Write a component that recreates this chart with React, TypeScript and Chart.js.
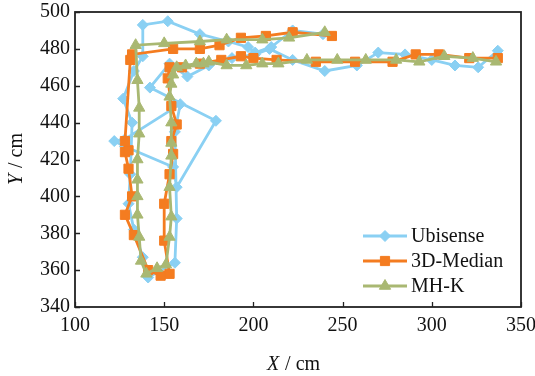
import { useEffect, useRef } from "react";
import { Chart, registerables } from "chart.js";
import { drawPoint } from "chart.js/helpers";

Chart.register(...registerables);

const seriesNames = ["Ubisense", "3D-Median", "MH-K"];
const seriesColors = ["#8ad0f3", "#f47c20", "#a9b872"];
const seriesMarkers = ["rectRot", "rect", "triangle"];

const ubiX = [337, 326, 313, 300, 285, 270, 258, 240, 222, 209, 201, 188, 175, 163, 153, 142, 179, 157, 155, 128, 122, 128, 159, 156, 157, 156, 141, 138, 133, 130, 131, 132, 127, 133, 138, 138, 152, 170, 186, 197, 201, 210, 222, 239];
const ubiY = [479, 470, 471, 474, 477, 478, 471, 468, 474, 480, 477, 475, 471, 465, 472, 459, 441, 405, 416, 427, 430, 431, 450, 435, 388, 364, 356, 367, 382, 396, 412, 440, 453, 468, 476, 493, 495, 488, 484, 481, 478, 481, 490, 488];

const medX = [337, 321, 304, 291, 278, 257, 235, 213, 200, 193, 182, 170, 160, 153, 152, 154, 157, 154, 155, 153, 150, 150, 153, 148, 141, 133, 128, 132, 130, 128, 130, 128, 131, 132, 155, 170, 181, 193, 207, 222, 244];
const medY = [475, 475, 477, 477, 473, 473, 473, 474, 475, 476, 474, 472, 470, 470, 464, 449, 439, 430, 423, 412, 396, 376, 358, 357, 360, 379, 390, 400, 415, 424, 425, 430, 474, 477, 480, 480, 482, 486, 487, 489, 487];

const mhkX = [336, 323, 307, 293, 280, 263, 247, 230, 214, 205, 196, 185, 175, 172, 168, 162, 157, 155, 154, 153, 154, 154, 154, 153, 154, 153, 151, 146, 140, 137, 136, 135, 135, 135, 135, 136, 136, 135, 134, 150, 170, 185, 205, 220, 240];
const mhkY = [473, 475, 476, 473, 474, 474, 474, 474, 472, 472, 471, 471, 473, 472, 472, 471, 470, 466, 461, 454, 440, 429, 422, 405, 389, 378, 363, 361, 358, 365, 378, 390, 400, 409, 420, 434, 448, 463, 482, 483, 484, 485, 485, 486, 489];

const xTicks = [100, 150, 200, 250, 300, 350];
const yTicks = [340, 360, 380, 400, 420, 440, 460, 480, 500];

const FONT = "'Liberation Serif', 'Times New Roman', serif";

export default function App() {
  const ref = useRef<HTMLCanvasElement>(null);

  useEffect(() => {
    document.body.style.margin = "0";
    const canvas = ref.current;
    if (!canvas) return;
    const pts = (xs: number[], ys: number[]) => xs.map((x, i) => ({ x, y: ys[i] }));
    const allX = [ubiX, medX, mhkX];
    const allY = [ubiY, medY, mhkY];

    const framePlugin = {
      id: "frameAndExtras",
      afterDraw(chart: any) {
        const { ctx, chartArea: a, scales } = chart;
        ctx.save();
        // inward ticks
        ctx.strokeStyle = "#222";
        ctx.lineWidth = 1.3;
        ctx.beginPath();
        xTicks.forEach((v) => {
          const px = Math.round(scales.x.getPixelForValue(v)) + 0.5;
          ctx.moveTo(px, a.bottom);
          ctx.lineTo(px, a.bottom - 5);
        });
        yTicks.forEach((v) => {
          const py = Math.round(scales.y.getPixelForValue(v)) + 0.5;
          ctx.moveTo(a.left, py);
          ctx.lineTo(a.left + 5, py);
        });
        ctx.stroke();
        // frame
        ctx.lineWidth = 1.8;
        ctx.strokeStyle = "#222";
        ctx.strokeRect(a.left, a.top, a.right - a.left, a.bottom - a.top);

        // axis titles
        const drawTitle = (cx: number, cy: number, rot: number, letter: string) => {
          ctx.save();
          ctx.translate(cx, cy);
          ctx.rotate(rot);
          ctx.fillStyle = "#111";
          ctx.textBaseline = "middle";
          ctx.textAlign = "left";
          const fi = `italic 20px ${FONT}`;
          const fr = `20px ${FONT}`;
          ctx.font = fi;
          const w1 = ctx.measureText(letter).width;
          ctx.font = fr;
          const rest = " / cm";
          const w2 = ctx.measureText(rest).width;
          const start = -(w1 + w2) / 2;
          ctx.font = fi;
          ctx.fillText(letter, start, 0);
          ctx.font = fr;
          ctx.fillText(rest, start + w1 + 1, 0);
          ctx.restore();
        };
        drawTitle((a.left + a.right) / 2 - 5, 365, 0, "X");
        drawTitle(17, (a.top + a.bottom) / 2, -Math.PI / 2, "Y");

        // legend
        const lx0 = 363, lx1 = 407, ltext = 411;
        const rows = [236, 261, 286];
        chart.data.datasets.forEach((ds: any, i: number) => {
          const y = rows[i];
          ctx.strokeStyle = ds.borderColor;
          ctx.lineWidth = ds.borderWidth;
          ctx.beginPath();
          ctx.moveTo(lx0, y);
          ctx.lineTo(lx1, y);
          ctx.stroke();
          ctx.fillStyle = ds.pointBackgroundColor;
          ctx.strokeStyle = ds.pointBorderColor;
          ctx.lineWidth = ds.pointBorderWidth;
          drawPoint(ctx, { pointStyle: ds.pointStyle, radius: ds.pointRadius, rotation: 0, borderWidth: ds.pointBorderWidth }, (lx0 + lx1) / 2, y);
          ctx.fillStyle = "#111";
          ctx.font = `20px ${FONT}`;
          ctx.textAlign = "left";
          ctx.textBaseline = "middle";
          ctx.fillText(ds.label, ltext, y + 1);
        });
        ctx.restore();
      },
    };

    const radii = [5.5, 6.5, 6.5];
    const orders = [3, 2, 1];

    const chart = new Chart(canvas, {
      type: "scatter",
      data: {
        datasets: seriesNames.map((name, i) => ({
          label: name,
          data: pts(allX[i], allY[i]),
          showLine: true,
          borderColor: seriesColors[i],
          backgroundColor: seriesColors[i],
          borderWidth: 2.8,
          pointStyle: seriesMarkers[i] as any,
          pointRadius: radii[i],
          pointHoverRadius: radii[i],
          pointBackgroundColor: seriesColors[i],
          pointBorderColor: seriesColors[i],
          pointBorderWidth: 1,
          tension: 0,
          order: orders[i],
        })),
      },
      options: {
        animation: false,
        responsive: false,
        events: [],
        layout: { autoPadding: false, padding: { top: 12, right: 14, bottom: 0, left: 0 } },
        plugins: { legend: { display: false }, tooltip: { enabled: false }, title: { display: false } },
        scales: {
          x: {
            type: "linear",
            min: 100,
            max: 350,
            afterBuildTicks: (s: any) => {
              s.ticks = xTicks.map((v) => ({ value: v }));
            },
            afterFit: (s: any) => {
              s.height = 69;
              s.paddingLeft = 0;
              s.paddingRight = 0;
            },
            grid: { display: false, drawTicks: false },
            border: { display: false },
            ticks: { padding: 7, color: "#111", font: { family: FONT, size: 20 }, maxRotation: 0 },
          },
          y: {
            type: "linear",
            min: 340,
            max: 500,
            afterBuildTicks: (s: any) => {
              s.ticks = yTicks.map((v) => ({ value: v }));
            },
            afterFit: (s: any) => {
              s.width = 75;
              s.paddingTop = 0;
              s.paddingBottom = 0;
            },
            grid: { display: false, drawTicks: false },
            border: { display: false },
            ticks: { padding: 5, color: "#111", font: { family: FONT, size: 20 } },
          },
        },
      },
      plugins: [framePlugin],
    });
    return () => chart.destroy();
  }, []);

  return (
    <div style={{ width: 535, height: 376, background: "#fff" }}>
      <canvas ref={ref} width={535} height={376} style={{ display: "block", width: 535, height: 376 }} />
    </div>
  );
}
